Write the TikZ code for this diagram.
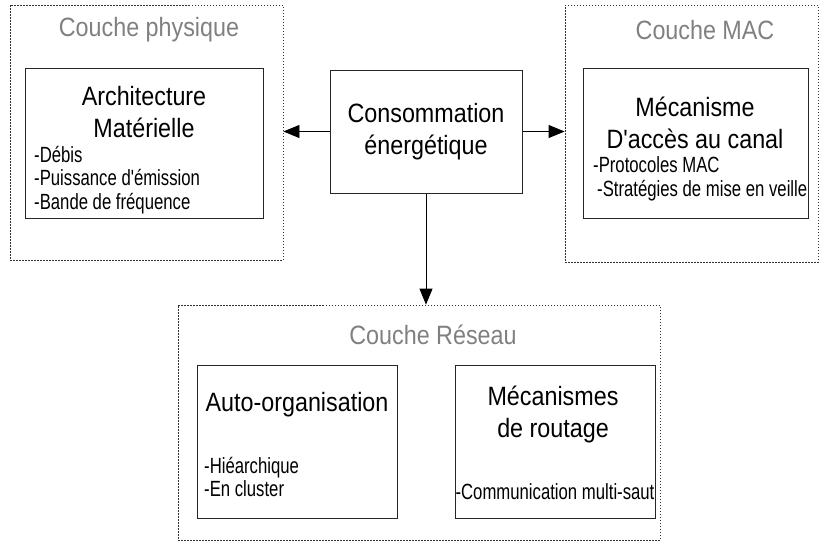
\documentclass[tikz,border=0pt]{standalone}
\usepackage{fontspec}
\setmainfont{Liberation Sans}[FakeStretch=0.88, Ligatures=TeXOff]
\newfontfamily\petitfont{Liberation Sans}[FakeStretch=0.76, Ligatures=TeXOff]
\usetikzlibrary{arrows.meta,positioning}
\tikzset{
	couche/.style={draw=black!80, line width=0.8pt, dash pattern=on 1.5pt off 1.5pt, inner sep=0pt},
	boite/.style={draw=black!85, line width=1pt, inner sep=0pt},
	titre/.style={font=\fontsize{26.5}{30}\selectfont, text=black!50, inner sep=0pt},
	grand/.style={font=\fontsize{26.5}{32}\selectfont, align=center, inner sep=0pt},
	petit/.style={font=\petitfont\fontsize{22}{23.5}\selectfont, align=left, inner sep=0pt},
	fleche/.style={-{Triangle[length=16pt,width=13pt]}, line width=0.8pt}
}
\begin{document}
\begin{tikzpicture}[x=1pt,y=-1pt]
	\useasboundingbox (0,0) rectangle (825,544);
	
	%%%%% couches %%%%%
	\node[couche, minimum width=273pt, minimum height=255pt] (phys) at (146.5,132.5) {};
	\node[couche, minimum width=253pt, minimum height=257pt] (mac) at (691.5,133.5) {};
	\node[couche, minimum width=482pt, minimum height=235pt] (reseau) at (419,422.5) {};
	
	\node[titre] (tphys) at (149,30) {Couche physique};
	\node[titre] (tmac) at (705,30) {Couche MAC};
	\node[titre] (treseau) at (433,335) {Couche Réseau};
	
	%%%%% boites %%%%%
	\node[boite, grand, minimum width=192pt, minimum height=123pt] (conso) at (426,131.5) {Consommation\\énergétique};
	\node[boite, minimum width=238pt, minimum height=150pt] (archi) at (144,143) {};
	\node[boite, minimum width=225pt, minimum height=150pt] (acces) at (695.5,143) {};
	\node[boite, minimum width=200pt, minimum height=153pt] (auto) at (297,441.5) {};
	\node[boite, minimum width=200pt, minimum height=153pt] (routage) at (555,441.5) {};
	
	%%%%% textes %%%%%
	\node[grand] (archiT) at (144,112.5) {Architecture\\Matérielle};
	\node[petit, anchor=west] (archiL) at (34,180) {-Débis\\-Puissance d'émission\\-Bande de fréquence};
	
	\node[grand] (accesT) at (695,122.5) {Mécanisme\\D'accès au canal};
	\node[petit, anchor=west] (accesL) at (593,179) {-Protocoles MAC\\\hspace*{4pt}-Stratégies de mise en veille};
	
	\node[grand] (autoT) at (297,405) {Auto-organisation};
	\node[petit, anchor=west] (autoL) at (204,477) {-Hiéarchique\\-En cluster};
	
	\node[grand] (routageT) at (553,414) {Mécanismes\\de routage};
	\node[petit] (routageL) at (555,492) {-Communication multi-saut};
	
	%%%%% fleches %%%%%
	\draw[fleche] (conso.west) -- (conso.west -| phys.east);
	\draw[fleche] (conso.east) -- (conso.east -| mac.west);
	\draw[fleche] (conso.south) -- (conso.south |- reseau.north);
\end{tikzpicture}
\end{document}
